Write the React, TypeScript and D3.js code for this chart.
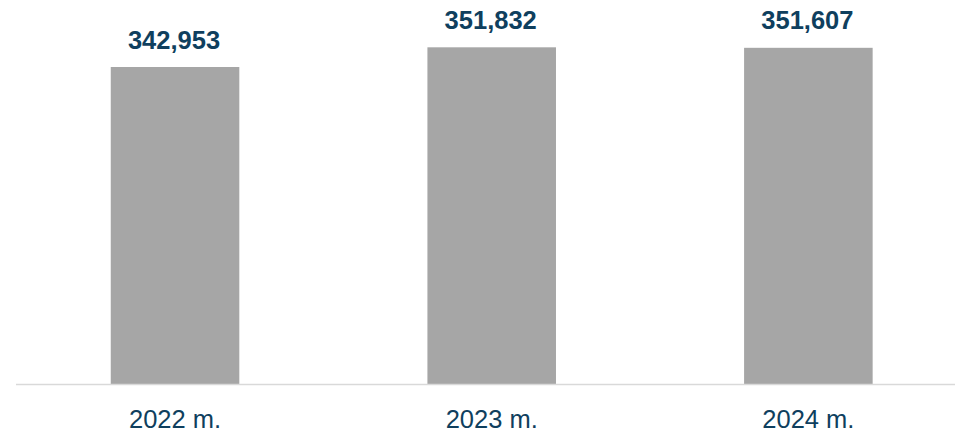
import { useEffect, useRef } from "react";
import * as d3 from "d3";

// chart data
const years: string[] = ["2022 m.", "2023 m.", "2024 m."];
const values: number[] = [342953, 351832, 351607];

const W = 955;
const H = 435;
const BASE_Y = 384;
const labelColor = "#0f3f5e";

export default function App() {
    const svgRef = useRef<SVGSVGElement | null>(null);

    useEffect(() => {
        const svg = d3.select(svgRef.current);
        svg.selectAll("*").remove();

        const x = d3.scaleBand<string>()
            .domain(years)
            .range([16.7, 966.7])
            .paddingInner(0.594)
            .paddingOuter(0.297);

        // axis doesn't start at zero in the source
        const y = d3.scaleLinear()
            .domain([200000, 360000])
            .range([BASE_Y, BASE_Y - 160000 * 0.0022175]);

        const data = years.map((c, i) => ({ c, v: values[i] }));

        svg.append("g")
            .selectAll("rect")
            .data(data)
            .join("rect")
            .attr("x", d => x(d.c)!)
            .attr("width", x.bandwidth())
            .attr("y", d => y(d.v))
            .attr("height", d => y(200000) - y(d.v))
            .attr("fill", "#a6a6a6");

        svg.append("line")
            .attr("x1", 16)
            .attr("x2", W)
            .attr("y1", BASE_Y + 0.5)
            .attr("y2", BASE_Y + 0.5)
            .attr("stroke", "#d9d9d9")
            .attr("stroke-width", 1.3);

        svg.append("g")
            .selectAll("text")
            .data(data)
            .join("text")
            .attr("x", d => x(d.c)! + x.bandwidth() / 2 - 1)
            .attr("y", d => y(d.v) - 18.5)
            .attr("text-anchor", "middle")
            .attr("font-family", "'Liberation Sans', Arial, sans-serif")
            .attr("font-weight", "bold")
            .attr("font-size", 25.5)
            .attr("fill", labelColor)
            .text(d => d3.format(",")(d.v));

        svg.append("g")
            .selectAll("text")
            .data(data)
            .join("text")
            .attr("x", d => x(d.c)! + x.bandwidth() / 2)
            .attr("y", 428)
            .attr("text-anchor", "middle")
            .attr("font-family", "'Liberation Sans', Arial, sans-serif")
            .attr("font-size", 25.5)
            .attr("fill", labelColor)
            .text(d => d.c);
    }, []);

    return (
        <svg
            ref={svgRef}
            width={W}
            height={H}
            style={{ position: "absolute", left: 0, top: 0, background: "#fff" }}
        />
    );
}
